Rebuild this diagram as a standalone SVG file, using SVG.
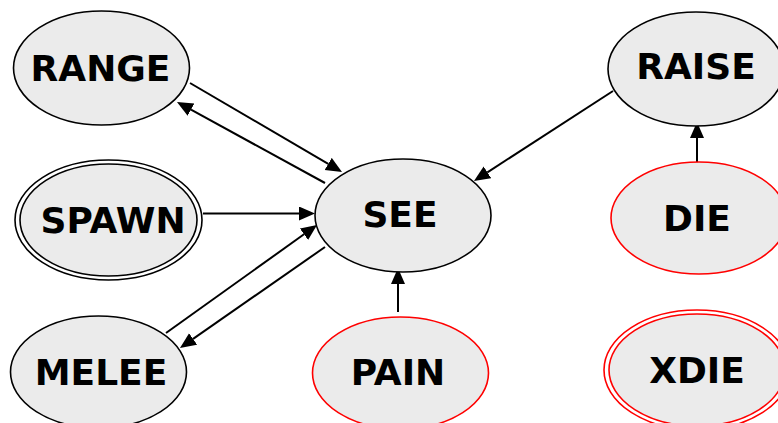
<svg xmlns="http://www.w3.org/2000/svg" width="778" height="423" viewBox="0 0 778 423">
<defs>
<style>
.n{fill:#ebebeb;stroke:#000;stroke-width:1.6}
.r{fill:#ebebeb;stroke:#ff0000;stroke-width:1.6}
.rn{fill:none;stroke:#ff0000;stroke-width:1.6}
.bn{fill:none;stroke:#000;stroke-width:1.6}
.t{font-family:"DejaVu Sans",sans-serif;font-weight:bold;font-size:36px;text-anchor:middle;fill:#000}
.e{fill:none;stroke:#000;stroke-width:2}
</style>
<marker id="ah" markerUnits="userSpaceOnUse" markerWidth="17" markerHeight="15" refX="0" refY="7" orient="auto">
<path d="M0,0 L16,7 L0,14 z" fill="#000"/>
</marker>
</defs>
<rect width="778" height="423" fill="#fff"/>
<g id="edges">
<path class="e" d="M190,83 L328.2,163.9" marker-end="url(#ah)"/>
<path class="e" d="M325,183 L191,109.7" marker-end="url(#ah)"/>
<path class="e" d="M203,213.5 L299,213.5" marker-end="url(#ah)"/>
<path class="e" d="M166,333 L304,234.3" marker-end="url(#ah)"/>
<path class="e" d="M325,247 L193.1,338.9" marker-end="url(#ah)"/>
<path class="e" d="M398,312 L398,284" marker-end="url(#ah)"/>
<path class="e" d="M613,91 L487.4,172.3" marker-end="url(#ah)"/>
<path class="e" d="M697,162 L697,138" marker-end="url(#ah)"/>
</g>
<g id="RANGE">
<ellipse class="n" cx="101.5" cy="68" rx="88" ry="57"/>
<text class="t" x="100.5" y="81">RANGE</text>
</g>
<g id="SPAWN">
<ellipse class="bn" cx="108.5" cy="220" rx="93.5" ry="60"/>
<ellipse class="n" cx="108.5" cy="220" rx="88.5" ry="56"/>
<text class="t" x="113" y="233">SPAWN</text>
</g>
<g id="SEE">
<ellipse class="n" cx="403" cy="215.5" rx="88" ry="56.5"/>
<text class="t" x="400" y="227">SEE</text>
</g>
<g id="MELEE">
<ellipse class="n" cx="98.5" cy="372" rx="88" ry="56"/>
<text class="t" x="101" y="385">MELEE</text>
</g>
<g id="PAIN">
<ellipse class="r" cx="400.5" cy="373" rx="88" ry="56"/>
<text class="t" x="398" y="385">PAIN</text>
</g>
<g id="RAISE">
<ellipse class="n" cx="696" cy="69" rx="88" ry="57"/>
<text class="t" x="696" y="79">RAISE</text>
</g>
<g id="DIE">
<ellipse class="r" cx="699" cy="218" rx="88" ry="56"/>
<text class="t" x="697" y="231">DIE</text>
</g>
<g id="XDIE">
<ellipse class="rn" cx="697" cy="370" rx="93" ry="60"/>
<ellipse class="r" cx="697" cy="370" rx="88" ry="56"/>
<text class="t" x="697" y="383">XDIE</text>
</g>
</svg>
